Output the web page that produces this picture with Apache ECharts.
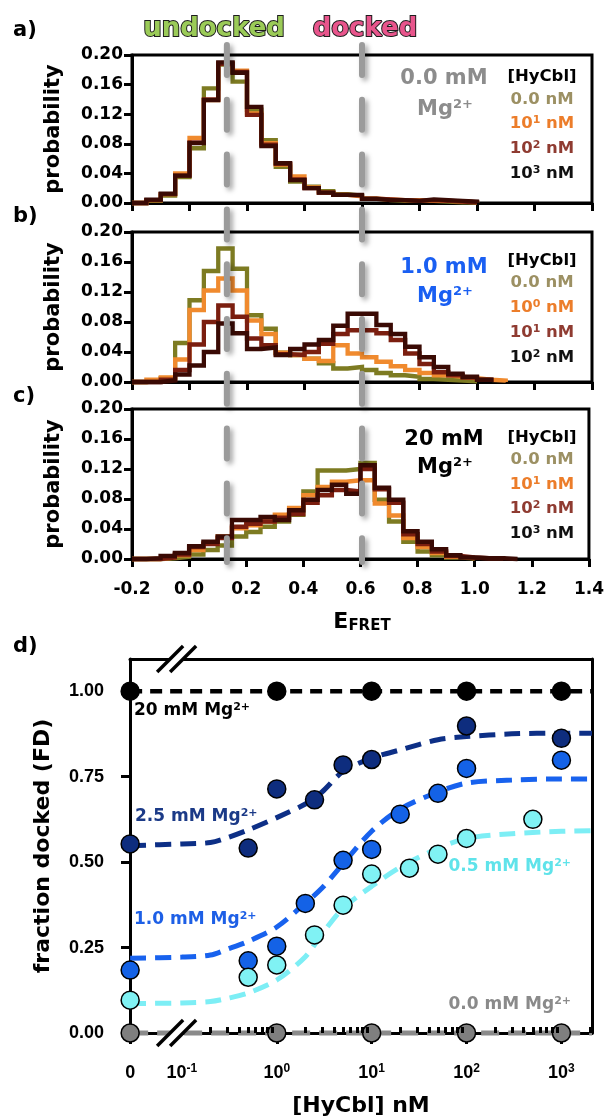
<!DOCTYPE html>
<html>
<head>
<meta charset="utf-8">
<script src="https://cdn.jsdelivr.net/npm/echarts@6.0.0/dist/echarts.min.js"></script>
<style>
html,body{margin:0;padding:0;background:#ffffff;}
#chart{width:607px;height:1120px;}
</style>
</head>
<body>
<div id="chart"></div>
<script>
// ================= DATA =================
// E_FRET histogram bin edges (left edges, 0.05 wide)
const binEdges = [-0.20,-0.15,-0.10,-0.05,0.00,0.05,0.10,0.15,0.20,0.25,0.30,0.35,0.40,0.45,0.50,0.55,0.60,0.65,0.70,0.75,0.80,0.85,0.90,0.95,1.00,1.05,1.10,1.15];
const eTicks = [-0.2,0.0,0.2,0.4,0.6,0.8,1.0,1.2,1.4];
const probTicks = [0.00,0.04,0.08,0.12,0.16,0.20];

// panel a: 0.0 mM Mg2+
const aOlive  = [0,0.003,0.010,0.035,0.074,0.155,0.187,0.164,0.126,0.085,0.049,0.029,0.022,0.016,0.012,0.010,0.006,0.004,0.003,0.003,0.003,0.002,0.001,0.001];
const aOrange = [0,0.004,0.012,0.040,0.088,0.139,0.189,0.179,0.121,0.081,0.052,0.036,0.021,0.014,0.011,0.009,0.006,0.005,0.004,0.004,0.003,0.003,0.002,0.001];
const aBrown  = [0,0.004,0.012,0.037,0.082,0.140,0.188,0.177,0.119,0.079,0.053,0.032,0.020,0.014,0.011,0.010,0.006,0.005,0.004,0.003,0.004,0.003,0.002,0.001];
const aDark   = [0,0.0045,0.0126,0.037,0.081,0.139,0.190,0.176,0.130,0.077,0.054,0.031,0.020,0.014,0.011,0.011,0.0055,0.004,0.004,0.003,0.005,0.004,0.003,0.002];
// panel b: 1.0 mM Mg2+
const bOlive  = [0,0.002,0.005,0.052,0.109,0.148,0.178,0.151,0.089,0.071,0.039,0.036,0.031,0.025,0.018,0.020,0.016,0.012,0.009,0.007,0.004,0.003,0.002,0.001];
const bOrange = [0,0.003,0.006,0.030,0.096,0.122,0.138,0.122,0.082,0.064,0.039,0.036,0.031,0.028,0.049,0.038,0.033,0.027,0.021,0.016,0.012,0.009,0.007,0.005,0.003,0.002];
const bBrown  = [0,0,0.003,0.016,0.050,0.080,0.102,0.087,0.058,0.049,0.037,0.036,0.040,0.051,0.064,0.069,0.069,0.065,0.056,0.038,0.024,0.013,0.009,0.006,0.003];
const bDark   = [0,0,0.002,0.010,0.022,0.040,0.078,0.065,0.044,0.046,0.036,0.044,0.050,0.056,0.075,0.091,0.091,0.076,0.064,0.047,0.033,0.020,0.011,0.007,0.003];
// panel c: 20 mM Mg2+
const cOlive  = [0,0,0.001,0.003,0.006,0.012,0.018,0.030,0.036,0.043,0.050,0.059,0.090,0.118,0.118,0.120,0.128,0.079,0.050,0.023,0.010,0.005,0.002,0.001];
const cOrange = [0,0,0.002,0.005,0.012,0.021,0.030,0.041,0.045,0.050,0.059,0.068,0.085,0.096,0.103,0.105,0.105,0.074,0.058,0.028,0.016,0.008,0.003,0.001];
const cBrown  = [0,0,0.002,0.006,0.016,0.020,0.028,0.043,0.047,0.050,0.055,0.060,0.075,0.085,0.092,0.090,0.120,0.093,0.075,0.033,0.020,0.010,0.004,0.002,0.001,0.001];
const cDark   = [0,0.001,0.004,0.008,0.017,0.023,0.030,0.052,0.052,0.056,0.052,0.065,0.079,0.092,0.099,0.087,0.125,0.095,0.079,0.037,0.023,0.013,0.005,0.002,0.001,0.001,0];

const refLinesE = [0.13, 0.60];          // undocked / docked reference E_FRET
const legendA = [['0.0',''],['10','1'],['10','2'],['10','3']];
const legendB = [['0.0',''],['10','0'],['10','1'],['10','2']];
const legendC = [['0.0',''],['10','1'],['10','2'],['10','3']];
const mgLabels = ['0.0 mM','1.0 mM','20 mM'];

// panel d: fraction docked vs [HyCbl] (nM); 0 nM drawn at the axis origin
const conc20 = [0,1,10,100,1000];            const fd20 = [1.00,1.00,1.00,1.00,1.00];
const conc25 = [0,0.5,1,2.5,5,10,100,1000];  const fd25 = [0.553,0.541,0.714,0.682,0.784,0.800,0.898,0.862];
const conc10 = [0,0.5,1,2,5,10,20,50,100,1000]; const fd10 = [0.184,0.211,0.254,0.379,0.505,0.537,0.640,0.701,0.774,0.798];
const conc05 = [0,0.5,1,2.5,5,10,25,50,100,500]; const fd05 = [0.096,0.163,0.199,0.287,0.374,0.465,0.482,0.523,0.569,0.625];
const conc00 = [0,1,10,100,1000];            const fd00 = [0,0,0,0,0];
const fitConc = [0,0.1,0.2,0.3,0.5,1,2,3,5,10,20,50,100,300,1000,2100];
const fit25 = [0.548,0.553,0.557,0.571,0.594,0.630,0.670,0.705,0.765,0.804,0.828,0.858,0.867,0.875,0.877,0.877];
const fit10 = [0.219,0.222,0.228,0.245,0.268,0.310,0.380,0.424,0.495,0.590,0.655,0.705,0.731,0.740,0.743,0.743];
const fit05 = [0.086,0.088,0.092,0.101,0.117,0.155,0.223,0.290,0.365,0.429,0.485,0.540,0.569,0.583,0.590,0.592];
const levelConc = [0,2100]; const level20 = [1,1]; const level00 = [0,0];
const dTickConc = [0,0.1,1,10,100,1000];
const dTickExp  = ['','-1','0','1','2','3'];
const dMinorConc = [0.2,0.3,0.4,0.5,0.6,0.7,0.8,0.9,2,3,4,5,6,7,8,9,20,30,40,50,60,70,80,90,200,300,400,500,600,700,800,900,2000];
const fdTicks = [0,0.25,0.5,0.75,1.0];
const dSeriesNames = ['20 mM','2.5 mM','1.0 mM','0.5 mM','0.0 mM'];

// ================= STYLE / LAYOUT =================
const FW = 'DejaVu Sans', FA = 'Liberation Sans';
const histColors = ['#7d7b22','#f08a2e','#7b1e0f','#3a0a04'];
const legColors  = ['#9c9063','#ec7d2a','#8f3b31','#111111'];
const X_MIN = 0.0284, X_MAX = 2100, ZERO_POS = 0.0285;
const toX = c => (c === 0 ? ZERO_POS : c);
const pairs = (xs, ys) => xs.map((x, i) => [toX(x), ys[i]]);
const stepData = vals => { const d = vals.map((v, i) => [binEdges[i], v]); d.push([binEdges[vals.length], 0]); return d; };

const chart = echarts.init(document.getElementById('chart'), null, {renderer: 'canvas', width: 607, height: 1120});

const gridDefs = [
  {left: 132, right: 15, top: 55,  height: 148},
  {left: 132, right: 15, top: 232, height: 150},
  {left: 132, right: 15, top: 409, height: 150}
];
const grids = gridDefs.map(g => Object.assign({show: true, borderColor: '#000', borderWidth: 3, backgroundColor: 'transparent'}, g));
grids.push({left: 130, right: 15, top: 659, height: 374, show: false});

const xAxes = [], yAxes = [], series = [];
[0,1,2].forEach(i => {
  xAxes.push({
    type: 'value', gridIndex: i, min: -0.2, max: 1.4, interval: 0.2,
    axisLine: {onZero: false, lineStyle: {color: '#000', width: 3}},
    axisTick: {show: true, inside: false, length: 8, lineStyle: {color: '#000', width: 3}},
    axisLabel: {show: i === 2, margin: 22, fontFamily: FW, fontWeight: 'bold', fontSize: 17, color: '#000',
      formatter: v => v.toFixed(1)},
    splitLine: {show: false}
  });
  yAxes.push({
    type: 'value', gridIndex: i, min: 0, max: 0.2, interval: 0.04,
    axisLine: {onZero: false, lineStyle: {color: '#000', width: 3}},
    axisTick: {show: true, inside: false, length: 8, lineStyle: {color: '#000', width: 3}},
    axisLabel: {margin: 9, fontFamily: FW, fontWeight: 'bold', fontSize: 17, color: '#000',
      formatter: v => v.toFixed(2)},
    splitLine: {show: false}
  });
});
// panel d axes
xAxes.push({ // 3 main log axis
  type: 'log', logBase: 10, gridIndex: 3, min: X_MIN, max: X_MAX, position: 'bottom',
  axisLine: {onZero: false, lineStyle: {color: '#000', width: 3}},
  axisTick: {show: true, customValues: dTickConc.filter(c => c >= 1 || c === 0).map(toX), inside: false, length: 11, lineStyle: {color: '#000', width: 3}},
  axisLabel: {
    customValues: dTickConc.map(toX), margin: 30,
    formatter: v => { const i = dTickConc.map(toX).findIndex(t => Math.abs(Math.log10(t) - Math.log10(v)) < 0.01);
      return i <= 0 ? '{n|0}' : '{n|10}{s|' + dTickExp[i] + '}'; },
    rich: {
      n: {fontFamily: FA, fontWeight: 'bold', fontSize: 18, color: '#000', lineHeight: 20},
      s: {fontFamily: FA, fontWeight: 'bold', fontSize: 12, color: '#000', verticalAlign: 'top', lineHeight: 12}
    }
  },
  splitLine: {show: false}, z: 1
});
xAxes.push({ // 4 minor ticks
  type: 'log', logBase: 10, gridIndex: 3, min: X_MIN, max: X_MAX, position: 'bottom',
  axisLine: {show: false, onZero: false},
  axisTick: {show: true, customValues: dMinorConc, inside: true, length: 6, lineStyle: {color: '#000', width: 3}},
  axisLabel: {show: false}, splitLine: {show: false}, z: 10
});
xAxes.push({ // 5 top frame
  type: 'value', gridIndex: 3, position: 'top', min: 0, max: 1,
  axisLine: {show: true, onZero: false, lineStyle: {color: '#000', width: 3}},
  axisTick: {show: false}, axisLabel: {show: false}, splitLine: {show: false}
});
yAxes.push({ // 3 main fd axis
  type: 'value', gridIndex: 3, min: 0, max: 1.094, position: 'left',
  axisLine: {onZero: false, lineStyle: {color: '#000', width: 3}},
  axisTick: {show: true, customValues: fdTicks, inside: false, length: 9, lineStyle: {color: '#000', width: 3}},
  axisLabel: {customValues: fdTicks, margin: 26, fontFamily: FA, fontWeight: 'bold', fontSize: 18, color: '#000',
    formatter: v => v.toFixed(2)},
  splitLine: {show: false}
});
yAxes.push({ // 4 right frame
  type: 'value', gridIndex: 3, position: 'right', min: 0, max: 1,
  axisLine: {show: true, onZero: false, lineStyle: {color: '#000', width: 3}},
  axisTick: {show: false}, axisLabel: {show: false}, splitLine: {show: false}
});

// histogram series
const hists = [[aOlive,aOrange,aBrown,aDark],[bOlive,bOrange,bBrown,bDark],[cOlive,cOrange,cBrown,cDark]];
hists.forEach((set, i) => set.forEach((vals, k) => {
  series.push({
    type: 'line', xAxisIndex: i, yAxisIndex: i, step: 'end', data: stepData(vals),
    symbol: 'none', showSymbol: false, clip: false, z: 2 + k,
    lineStyle: {color: histColors[k], width: 4.3, join: 'miter', cap: 'butt'}
  });
}));
const firstD = series.length;
// panel d lines
series.push({type: 'line', xAxisIndex: 3, yAxisIndex: 3, data: pairs(levelConc, level20), symbol: 'none', clip: false, z: 3,
  lineStyle: {color: '#000000', width: 4.5, type: [12, 8]}});
series.push({type: 'line', xAxisIndex: 3, yAxisIndex: 3, data: pairs(levelConc, level00), symbol: 'none', clip: false, z: 3,
  lineStyle: {color: '#8a8a8a', width: 5, type: [18, 9]}});
const fitStyles = [[fit25, '#0d2f86'], [fit10, '#1862ee'], [fit05, '#7deef5']];
fitStyles.forEach(([f, col]) => series.push({
  type: 'line', xAxisIndex: 3, yAxisIndex: 3, data: pairs(fitConc, f), smooth: 0.3, symbol: 'none', clip: false, z: 3,
  lineStyle: {color: col, width: 5, type: [16, 9]}
}));
const pts = [[conc20, fd20, '#000000'], [conc25, fd25, '#0e2d7e'], [conc10, fd10, '#1462e6'], [conc05, fd05, '#80f2f4'], [conc00, fd00, '#7f7f7f']];
pts.forEach(([c, f, col], i) => series.push({
  name: dSeriesNames[i], type: 'scatter', xAxisIndex: 3, yAxisIndex: 3, data: pairs(c, f), symbol: 'circle', symbolSize: 18,
  clip: false, z: 6, itemStyle: {color: col, borderColor: '#000', borderWidth: 1.5, opacity: 1}
}));

chart.setOption({animation: false, backgroundColor: '#ffffff', grid: grids, xAxis: xAxes, yAxis: yAxes, series: series});

// ================= ANNOTATIONS =================
function rich(parts, color, size, supSize, family) {
  let text = '';
  parts.forEach(([t, sup]) => { if (t !== '') text += '{' + (sup ? 's' : 'm') + '|' + t + '}'; });
  return {text, rich: {
    m: {fontSize: size, fontWeight: 'bold', fontFamily: family, fill: color, lineHeight: size + 2},
    s: {fontSize: supSize, fontWeight: 'bold', fontFamily: family, fill: color, verticalAlign: 'top', lineHeight: supSize}
  }};
}
function txt(x, y, styleExtra, extra) {
  return Object.assign({type: 'text', x, y, z: 50, silent: true,
    style: Object.assign({align: 'center', verticalAlign: 'middle', fontFamily: FW, fontWeight: 'bold'}, styleExtra)}, extra || {});
}
const g = [];
// vertical reference lines
refLinesE.forEach(e => {
  const p = chart.convertToPixel({seriesIndex: 0}, [e, 0]);
  g.push({type: 'line', z: 40, silent: true, shape: {x1: p[0], y1: 45, x2: p[0], y2: 562},
    style: {stroke: '#9b9b9b', lineWidth: 6, lineDash: [30, 24.8], lineCap: 'round',
      shadowBlur: 5, shadowColor: 'rgba(0,0,0,0.35)', shadowOffsetX: 3, shadowOffsetY: 3}});
});
// panel letters
[['a)', 31], ['b)', 217], ['c)', 397], ['d)', 647]].forEach(([t, y]) =>
  g.push(txt(13, y, {text: t, fontSize: 21, fill: '#000', align: 'left'})));
// undocked / docked
g.push(txt(214, 29, {text: 'undocked', fontSize: 26, fill: '#9bcb58', stroke: '#1d1d1d', lineWidth: 2}));
g.push(txt(365, 29, {text: 'docked', fontSize: 26, fill: '#e8558c', stroke: '#1d1d1d', lineWidth: 2}));
// probability labels
gridDefs.forEach(gd => g.push(txt(54, gd.top + gd.height / 2, {text: 'probability', fontSize: 21, fill: '#000'}, {rotation: Math.PI / 2})));
// Mg annotations
const mgCols = ['#8c8c8c', '#1a5ff2', '#000000'];
const mgY = [[79, 110], [268, 297], [440, 468]];
mgLabels.forEach((t, i) => {
  g.push(txt(444, mgY[i][0], {text: t, fontSize: 21, fill: mgCols[i]}));
  g.push(txt(445, mgY[i][1], rich([['Mg', false], ['2+', true]], mgCols[i], 21, 13, FW)));
});
// legends
const legY = [[77, 100, 124, 149, 174], [261, 283, 308, 333, 358], [438, 460, 485, 509, 534]];
[legendA, legendB, legendC].forEach((leg, i) => {
  g.push(txt(542, legY[i][0], {text: '[HyCbl]', fontSize: 16.5, fill: '#000'}));
  leg.forEach(([base, sup], k) => g.push(txt(542, legY[i][k + 1],
    rich([[base, false], [sup, true], [' nM', false]], legColors[k], 16.5, 11, FW))));
});
// E_FRET
g.push(txt(362, 622, {text: '{e|E}{f|FRET}', rich: {
  e: {fontSize: 22, fontWeight: 'bold', fontFamily: FW, fill: '#000', lineHeight: 24},
  f: {fontSize: 15, fontWeight: 'bold', fontFamily: FW, fill: '#000', verticalAlign: 'bottom', lineHeight: 15}}}));
// panel d labels
g.push(txt(43.5, 846, {text: 'fraction docked (FD)', fontSize: 22, fill: '#000'}, {rotation: Math.PI / 2}));
g.push(txt(361, 1106, {text: '[HyCbl] nM', fontSize: 22, fill: '#000'}));
const dLab = [
  ['20', '#000000', 134, 711, 'left'], ['2.5', '#1b3a87', 135, 817, 'left'], ['1.0', '#1d5fe6', 134, 920, 'left'],
  ['0.5', '#5fe3ea', 571, 867, 'right'], ['0.0', '#8a8a8a', 571, 1005, 'right']];
dLab.forEach(([n, col, x, y, al]) => {
  const r = rich([[n + ' mM Mg', false], ['2+', true]], col, 17, 11, FW);
  r.align = al;
  g.push(txt(x, y, r));
});
// axis breaks
const brk = chart.convertToPixel({seriesIndex: firstD}, [0.088, 0]);
const brkTop = chart.convertToPixel({seriesIndex: firstD}, [0.088, 1.094]);
[[brk[0], brk[1]], [brkTop[0], brkTop[1]]].forEach(([cx, cy]) => {
  g.push({type: 'rect', z: 60, silent: true, shape: {x: cx - 6.5, y: cy - 4.5, width: 13, height: 9}, style: {fill: '#ffffff'}});
  g.push({type: 'line', z: 61, silent: true, shape: {x1: cx - 19.5, y1: cy + 13, x2: cx + 6.5, y2: cy - 13}, style: {stroke: '#000', lineWidth: 3.5}});
  g.push({type: 'line', z: 61, silent: true, shape: {x1: cx - 6.5, y1: cy + 13, x2: cx + 19.5, y2: cy - 13}, style: {stroke: '#000', lineWidth: 3.5}});
});
chart.setOption({graphic: {elements: g}});
</script>
</body>
</html>
